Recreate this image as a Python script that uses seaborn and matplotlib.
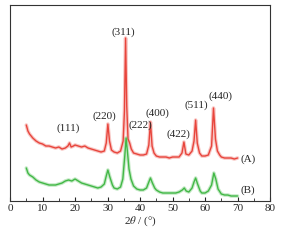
import pandas as pd
import numpy as np
import matplotlib
matplotlib.use('Agg')
import matplotlib.pyplot as plt
from matplotlib.ticker import MultipleLocator
import seaborn as sns

# XRD patterns (2theta in degrees, intensity in arbitrary units)
two_theta_a = [5, 5.5, 6, 7, 8, 9, 10, 11, 12, 13, 14, 15, 16, 17, 17.8, 18.3, 18.8, 19.5, 20, 21,
               22, 23, 24, 25, 26, 27, 28, 29, 29.6, 30.1, 30.6, 31.2, 32, 33, 34, 34.8, 35.2, 35.55,
               35.9, 36.3, 36.8, 37.3, 38, 39, 40, 41, 42, 42.7, 43.2, 43.7, 44.3, 45, 46, 47, 48, 49,
               50, 51, 52, 52.9, 53.5, 54.1, 55, 56, 56.6, 57.1, 57.6, 58.3, 59, 60, 61, 62, 62.6, 63.2,
               63.8, 64.5, 65, 66, 67, 68, 69, 70]
intensity_a = [76, 70, 67, 63, 60, 58, 57, 55, 55, 54, 53, 54, 52, 53, 55, 58, 54, 55, 56, 55,
               54, 55, 53, 52, 51, 50, 49, 50, 58, 77, 60, 51, 49, 48, 50, 60, 90, 163,
               95, 62, 58, 52, 48, 47, 46, 46, 47, 56, 79, 55, 48, 45, 44, 44, 44, 43,
               44, 44, 44, 48, 59, 47, 46, 50, 60, 81, 58, 48, 45, 45, 46, 55, 93, 62,
               50, 46, 44, 43, 43, 43, 42, 43]

two_theta_b = [5, 5.5, 6, 7, 8, 9, 10, 11, 12, 13, 14, 15, 16, 17, 18, 19, 20, 21, 22, 23, 24, 25,
               26, 27, 28, 29, 29.6, 30.1, 30.7, 31.5, 32, 33, 34, 34.7, 35.3, 35.7, 36.1, 36.6, 37.2,
               38, 39, 40, 41, 42, 42.7, 43.2, 43.8, 44.5, 45, 46, 47, 48, 49, 50, 51, 52, 53, 53.6,
               54.2, 55, 56, 56.6, 57.1, 57.7, 58.5, 59, 60, 61, 62, 62.7, 63.3, 64, 64.8, 65, 66, 67,
               68, 69, 70]
intensity_b = [33, 28, 26, 24, 21, 19, 18, 17, 16, 16, 16, 17, 18, 20, 21, 20, 22, 20, 18, 17, 16, 15,
               14, 13, 14, 17, 25, 31, 24, 16, 13, 12, 14, 22, 45, 63, 50, 32, 22,
               15, 12, 11, 11, 13, 19, 23, 18, 13, 11, 9, 8, 8, 8, 8, 8, 9, 11, 13,
               10, 9, 13, 19, 23, 17, 10, 8, 8, 10, 16, 28, 22, 12, 8, 7, 6, 6,
               5, 5, 5]

peak_labels = ['(111)', '(220)', '(311)', '(222)', '(400)', '(422)', '(511)', '(440)']
label_x = [17.8, 28.9, 34.8, 40.0, 45.5, 51.7, 57.2, 64.9]
label_y = [73, 85, 169, 76, 88, 67, 96, 105]

sample_names = ['(A)', '(B)']
sample_y = [42, 11]

df_a = pd.DataFrame({'two_theta': two_theta_a, 'intensity': intensity_a})
df_b = pd.DataFrame({'two_theta': two_theta_b, 'intensity': intensity_b})

sns.set_style('ticks')
plt.rcParams['font.family'] = ['Liberation Serif', 'DejaVu Serif']
plt.rcParams['mathtext.fontset'] = 'stix'

fig = plt.figure(figsize=(2.87, 2.40), dpi=100)
ax = fig.add_axes([0.035, 0.1625, 0.906, 0.8165])

red = '#e8453c'
green = '#42b846'
# soft wide band under each trace to mimic the noisy measured signal
sns.lineplot(data=df_a, x='two_theta', y='intensity', ax=ax, color=red, linewidth=2.6, alpha=0.3)
sns.lineplot(data=df_a, x='two_theta', y='intensity', ax=ax, color=red, linewidth=1.0)
sns.lineplot(data=df_b, x='two_theta', y='intensity', ax=ax, color=green, linewidth=2.6, alpha=0.3)
sns.lineplot(data=df_b, x='two_theta', y='intensity', ax=ax, color=green, linewidth=1.0)

# Miller index labels
for lab, x, y in zip(peak_labels, label_x, label_y):
    ax.text(x, y, lab, ha='center', va='center', fontsize=8)

for lab, y in zip(sample_names, sample_y):
    ax.text(73.2, y, lab, ha='center', va='center', fontsize=8)

ax.set_xlim(0, 80)
ax.set_ylim(0, 196)
ax.xaxis.set_major_locator(MultipleLocator(10))
ax.xaxis.set_minor_locator(MultipleLocator(5))
ax.tick_params(axis='x', which='both', direction='in', labelsize=8, pad=2)
ax.tick_params(axis='x', which='major', length=3)
ax.tick_params(axis='x', which='minor', length=2)
ax.set_yticks([])
ax.set_xlabel(r'2$\theta$ / (°)', fontsize=8, labelpad=1)
ax.set_ylabel('')
for sp in ax.spines.values():
    sp.set_visible(True)
    sp.set_linewidth(0.8)
    sp.set_color('#333333')

fig.savefig('out.png', dpi=100)
